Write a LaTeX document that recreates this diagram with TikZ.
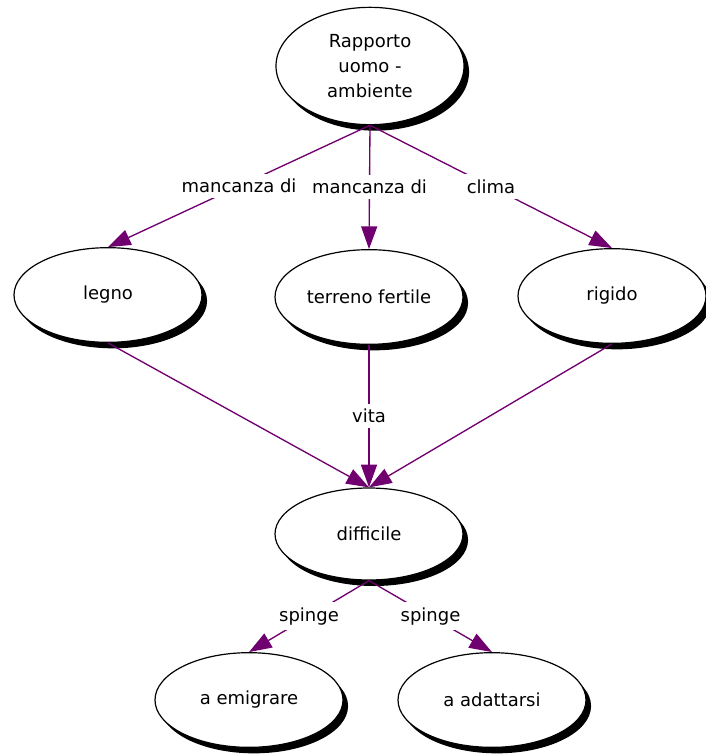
\documentclass[tikz,border=0pt]{standalone}
\usepackage{fontspec}
\setmainfont{DejaVu Sans}
\usepackage{xcolor}
\usetikzlibrary{arrows.meta, shapes.geometric, shadows}

\definecolor{linkpurple}{RGB}{112,0,112}

\tikzset{
  concept/.style={ellipse, draw=black, line width=0.9pt, fill=white,
    minimum width=141pt, minimum height=71pt, inner sep=0pt, align=center,
    font=\fontsize{13.5}{19}\selectfont,
    drop shadow={shadow xshift=3.8pt, shadow yshift=-4.5pt, fill=black, opacity=1}},
  link/.style={draw=linkpurple, line width=1pt,
    -{Triangle[length=17pt, width=12pt]}},
  linklabel/.style={fill=white, inner sep=4pt, text=black,
    font=\fontsize{13.5}{16}\selectfont}
}

\begin{document}
\begin{tikzpicture}[x=0.75pt, y=-0.75pt]
  \useasboundingbox (0,0) rectangle (706,756);

  % concepts
  \node[concept, minimum height=88pt] (rapporto) at (370,66) {Rapporto\\uomo -\\ambiente};
  \node[concept] (legno)     at (108,295) {legno};
  \node[concept] (terreno)   at (369,297) {terreno fertile};
  \node[concept] (rigido)    at (612,296) {rigido};
  \node[concept, minimum height=69pt] (difficile) at (369,534) {difficile};
  \node[concept] (emigrare)  at (249,700) {a emigrare};
  \node[concept] (adattarsi) at (492,700) {a adattarsi};

  % links from the top concept
  \draw[link] (rapporto.south) -- (legno.north)   node[linklabel, midway] {mancanza di};
  \draw[link] (rapporto.south) -- (terreno.north) node[linklabel, midway] {mancanza di};
  \draw[link] (rapporto.south) -- (rigido.north)  node[linklabel, midway] {clima};

  % links into difficile
  \draw[link] (legno.south)   -- (difficile.north);
  \draw[link] (terreno.south) -- (difficile.north) node[linklabel, midway] {vita};
  \draw[link] (rigido.south)  -- (difficile.north);

  % links out of difficile
  \draw[link] (difficile.south) -- (emigrare.north)  node[linklabel, midway] {spinge};
  \draw[link] (difficile.south) -- (adattarsi.north) node[linklabel, midway] {spinge};
\end{tikzpicture}
\end{document}
